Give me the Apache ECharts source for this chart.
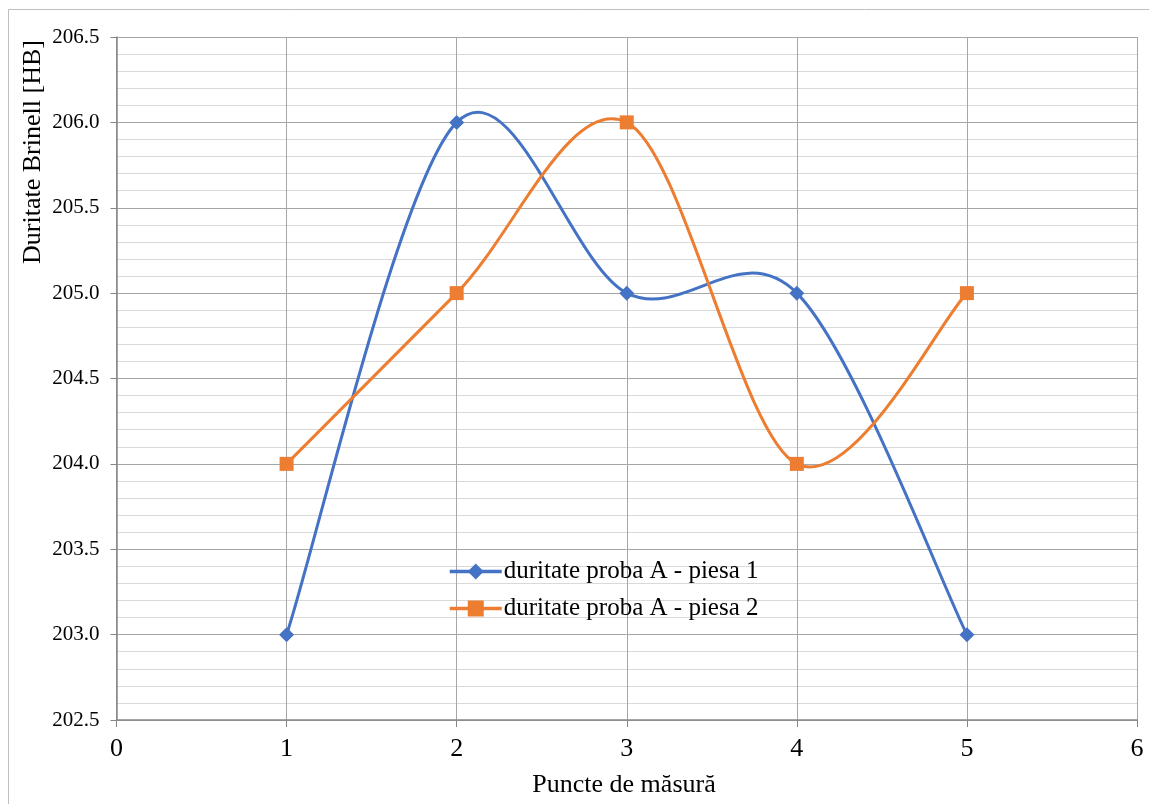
<!DOCTYPE html>
<html>
<head>
<meta charset="utf-8">
<script src="https://cdn.jsdelivr.net/npm/echarts@6/dist/echarts.min.js"></script>
<style>
  html, body { margin: 0; padding: 0; background: #fff; }
  #chart { width: 1149px; height: 804px; }
</style>
</head>
<body>
<div id="chart"></div>
<script>
// Measurement points and Brinell hardness readings
const points = [1, 2, 3, 4, 5];
const piesa1 = [203, 206, 205, 205, 203];
const piesa2 = [204, 205, 206, 204, 205];
const seriesNames = ['duritate proba A - piesa 1', 'duritate proba A - piesa 2'];
const colors = ['#4472C4', '#ED7D31'];
const xAxisTitle = 'Puncte de măsură';
const yAxisTitle = 'Duritate Brinell [HB]';

const FONT = '"Liberation Serif", "Times New Roman", serif';

const chart = echarts.init(document.getElementById('chart'), null, { renderer: 'canvas' });

const toPairs = (xs, ys) => xs.map((x, i) => [x, ys[i]]);

// Smoothed curve (Catmull-Rom as cubic Bezier segments) through the data points,
// converted to pixels by the chart's own axes.
function curveRenderer(ys, color) {
  return function (params, api) {
    const n = points.length;
    const i = params.dataIndex;
    if (i >= n - 1) return null;
    const clamp = k => Math.max(0, Math.min(n - 1, k));
    const P = k => api.coord([points[clamp(k)], ys[clamp(k)]]);
    const p0 = P(i - 1), p1 = P(i), p2 = P(i + 1), p3 = P(i + 2);
    return {
      type: 'bezierCurve',
      shape: {
        x1: p1[0], y1: p1[1],
        x2: p2[0], y2: p2[1],
        cpx1: p1[0] + (p2[0] - p0[0]) / 6, cpy1: p1[1] + (p2[1] - p0[1]) / 6,
        cpx2: p2[0] - (p3[0] - p1[0]) / 6, cpy2: p2[1] - (p3[1] - p1[1]) / 6
      },
      style: { stroke: color, lineWidth: 3, fill: null, lineCap: 'round' },
      silent: true
    };
  };
}

chart.setOption({
  backgroundColor: '#fff',
  animation: false,
  graphic: [
    {
      type: 'rect',
      shape: { x: 8.5, y: 9.5, width: 1150, height: 800 },
      style: { fill: 'none', stroke: '#bfbfbf', lineWidth: 1 },
      silent: true
    },
    {
      type: 'text', x: 33, y: 152, rotation: Math.PI / 2,
      style: { text: yAxisTitle, font: '26px ' + FONT, fill: '#000',
        textAlign: 'center', textVerticalAlign: 'middle' }
    },
    {
      type: 'text', x: 624, y: 785,
      style: { text: xAxisTitle, font: '26px ' + FONT, fill: '#000',
        textAlign: 'center', textVerticalAlign: 'middle' }
    }
  ],
  grid: { left: 116.5, right: 12, top: 37, bottom: 84, containLabel: false },
  legend: {
    left: 443, top: 554,
    orient: 'vertical',
    itemWidth: 52, itemHeight: 20, itemGap: 12,
    textStyle: { fontFamily: FONT, fontSize: 25, color: '#000', padding: [0, 0, 0, -3] },
    data: seriesNames.map((name, k) => ({
      name,
      lineStyle: { opacity: 1, width: 3.5, color: colors[k] }
    }))
  },
  xAxis: {
    type: 'value', min: 0, max: 6, interval: 1,
    axisLine: { show: true, onZero: false, lineStyle: { color: '#868686', width: 1.5 } },
    axisTick: { show: true, length: 7, lineStyle: { color: '#868686' } },
    axisLabel: { fontFamily: FONT, fontSize: 26, color: '#000', margin: 16 },
    splitLine: { show: true, lineStyle: { color: '#a6a6a6', width: 1 } }
  },
  yAxis: {
    type: 'value', min: 202.5, max: 206.5, interval: 0.5,
    axisLine: { show: true, onZero: false, lineStyle: { color: '#868686', width: 1.5 } },
    axisTick: { show: true, length: 6, lineStyle: { color: '#868686' } },
    axisLabel: { fontFamily: FONT, fontSize: 21, color: '#000', margin: 17,
      formatter: v => v.toFixed(1) },
    splitLine: { show: true, lineStyle: { color: '#a6a6a6', width: 1 } },
    minorTick: { show: false, splitNumber: 5 },
    minorSplitLine: { show: true, lineStyle: { color: '#d9d9d9', width: 1 } }
  },
  series: [
    {
      name: 'curve-1', type: 'custom', z: 2,
      data: toPairs(points, piesa1), encode: { x: 0, y: 1 },
      renderItem: curveRenderer(piesa1, colors[0])
    },
    {
      name: seriesNames[0], type: 'line', z: 3,
      data: toPairs(points, piesa1),
      symbol: 'diamond', symbolSize: 15,
      itemStyle: { color: colors[0] },
      lineStyle: { color: colors[0], width: 3, opacity: 0 }
    },
    {
      name: 'curve-2', type: 'custom', z: 4,
      data: toPairs(points, piesa2), encode: { x: 0, y: 1 },
      renderItem: curveRenderer(piesa2, colors[1])
    },
    {
      name: seriesNames[1], type: 'line', z: 5,
      data: toPairs(points, piesa2),
      symbol: 'rect', symbolSize: 14,
      itemStyle: { color: colors[1] },
      lineStyle: { color: colors[1], width: 3, opacity: 0 }
    }
  ]
});
</script>
</body>
</html>
